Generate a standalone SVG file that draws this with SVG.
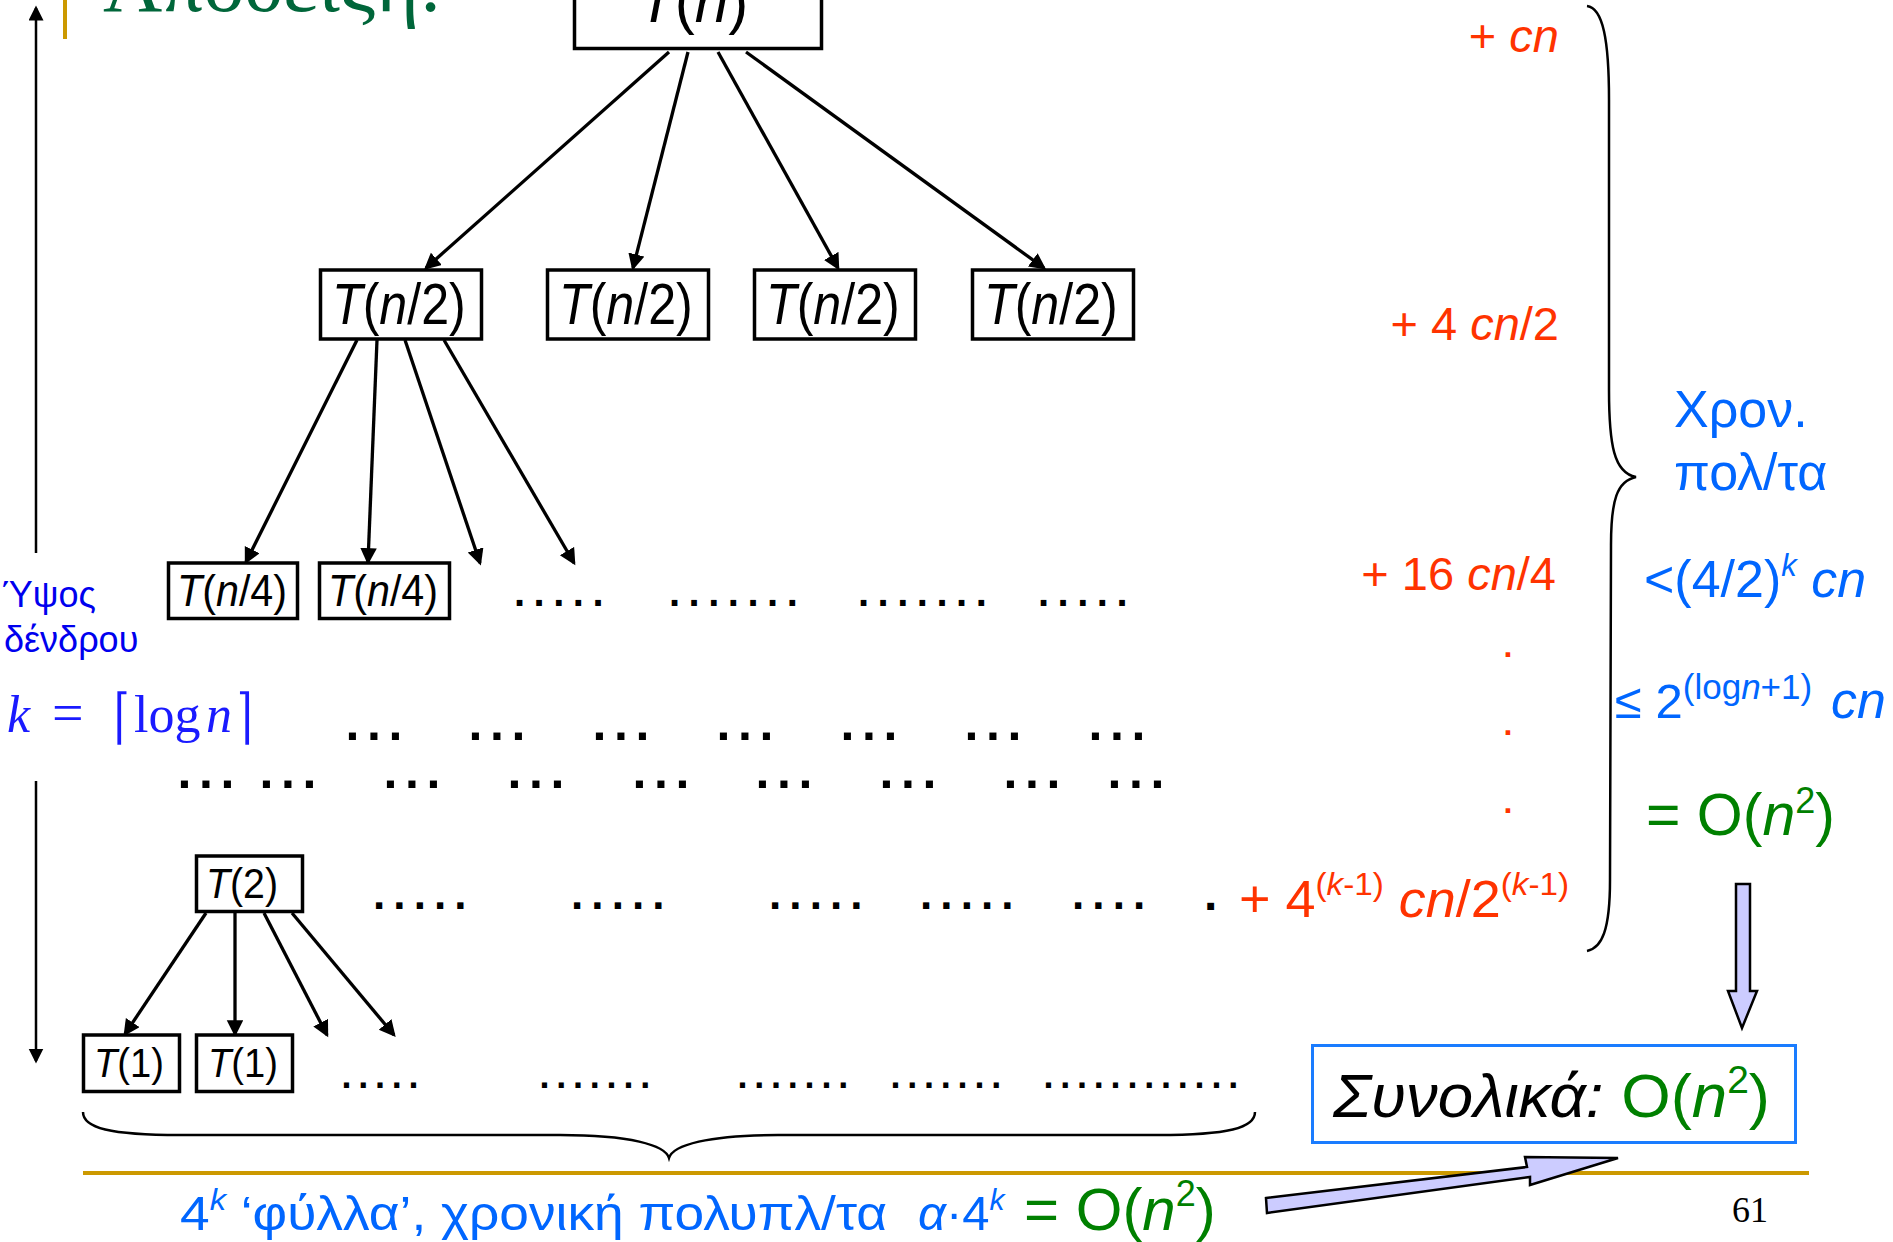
<svg xmlns="http://www.w3.org/2000/svg" width="1893" height="1242" viewBox="0 0 1893 1242">
<defs>
<style>
.box{fill:#fff;stroke:#000;stroke-width:3.5}
.t{font-family:"Liberation Sans",Arial,sans-serif;fill:#000}
.i{font-style:italic}
.edge{stroke:#000;stroke-width:3.3;fill:none;marker-end:url(#ah)}
.hgt{stroke:#000;stroke-width:2.5;fill:none;marker-end:url(#ah2)}
.dots{font-family:"Liberation Sans",Arial,sans-serif;font-weight:bold;fill:#000}
.d1{font-size:40px;letter-spacing:8.5px}
.d2{font-size:50px;letter-spacing:7.6px}
.d4{font-size:44px;letter-spacing:8.1px}
.d5{font-size:36px;letter-spacing:6.8px}
.or{font-family:"Liberation Sans",Arial,sans-serif;fill:#FF3300}
.bl{font-family:"Liberation Sans",Arial,sans-serif;fill:#0066FF}
.gr{fill:#008000}
.brace{stroke:#000;stroke-width:2.5;fill:none}
.blk{fill:#CCCCFF;stroke:#000;stroke-width:2.5;stroke-linejoin:miter}
.ceil{font-family:"DejaVu Serif",serif;font-size:40px;fill:#1A1AFF}
</style>
<marker id="ah" markerWidth="6" markerHeight="6" refX="4.2" refY="2.5" orient="auto" markerUnits="strokeWidth"><path d="M0,0 L5,2.5 L0,5 z" fill="#000"/></marker>
<marker id="ah2" markerWidth="7" markerHeight="7" refX="5" refY="3" orient="auto" markerUnits="strokeWidth"><path d="M0,0 L6,3 L0,6 z" fill="#000"/></marker>
</defs>
<rect width="1893" height="1242" fill="#fff"/>

<g id="title">
<rect x="63" y="0" width="4" height="39" fill="#CC9900"/>
<text x="103" y="11" font-family="'Liberation Serif','Times New Roman',serif" font-size="82" fill="#00663A">Απόδειξη:</text>
</g>

<g id="height-axis">
<line class="hgt" x1="36" y1="553" x2="36" y2="8"/>
<line class="hgt" x1="36" y1="781" x2="36" y2="1061"/>
<text class="t" x="2" y="607" font-size="36" style="fill:#0000EE">Ύψος</text>
<text class="t" x="4" y="652" font-size="36" style="fill:#0000EE">δένδρου</text>
<g font-family="'Liberation Serif','DejaVu Serif',serif" font-size="52" fill="#1A1AFF">
<text x="7" y="732" font-style="italic">k</text>
<text x="52" y="732" font-size="56">=</text>
<text class="ceil" transform="translate(114,737) scale(1,1.5)">⌈</text>
<text x="134" y="732">log</text>
<text x="206" y="732" font-style="italic">n</text>
<text class="ceil" transform="translate(237,737) scale(1,1.5)">⌉</text>
</g>
</g>

<g id="connectors">
<line class="edge" x1="669" y1="52" x2="426" y2="268"/>
<line class="edge" x1="688" y1="52" x2="633" y2="268"/>
<line class="edge" x1="718" y1="52" x2="838" y2="268"/>
<line class="edge" x1="746" y1="52" x2="1044" y2="268"/>
<line class="edge" x1="357" y1="340" x2="246" y2="562"/>
<line class="edge" x1="377" y1="340" x2="368" y2="562"/>
<line class="edge" x1="405" y1="340" x2="480" y2="563"/>
<line class="edge" x1="444" y1="340" x2="574" y2="563"/>
<line class="edge" x1="206" y1="913" x2="125" y2="1034"/>
<line class="edge" x1="235" y1="913" x2="235" y2="1034"/>
<line class="edge" x1="264" y1="913" x2="327" y2="1035"/>
<line class="edge" x1="292" y1="913" x2="394" y2="1035"/>
</g>

<g id="node-Tn">
<rect class="box" x="574.5" y="-10" width="247" height="58.5"/>
<text class="t" font-size="62" transform="translate(638,22) scale(0.97,1)"><tspan class="i">T</tspan>(<tspan class="i">n</tspan>)</text>
</g>
<g id="node-Tn2-1">
<rect class="box" x="320.5" y="270" width="161" height="69"/>
<text class="t" font-size="57" transform="translate(332,324) scale(0.88,1)"><tspan class="i">T</tspan>(<tspan class="i">n</tspan>/2)</text>
</g>
<g id="node-Tn2-2">
<rect class="box" x="547.5" y="270" width="161" height="69"/>
<text class="t" font-size="57" transform="translate(559,324) scale(0.88,1)"><tspan class="i">T</tspan>(<tspan class="i">n</tspan>/2)</text>
</g>
<g id="node-Tn2-3">
<rect class="box" x="754.5" y="270" width="161" height="69"/>
<text class="t" font-size="57" transform="translate(766,324) scale(0.88,1)"><tspan class="i">T</tspan>(<tspan class="i">n</tspan>/2)</text>
</g>
<g id="node-Tn2-4">
<rect class="box" x="972.5" y="270" width="161" height="69"/>
<text class="t" font-size="57" transform="translate(984,324) scale(0.88,1)"><tspan class="i">T</tspan>(<tspan class="i">n</tspan>/2)</text>
</g>
<g id="node-Tn4-1">
<rect class="box" x="168.5" y="563" width="129" height="55.5"/>
<text class="t" font-size="45" transform="translate(177,606) scale(0.917,1)"><tspan class="i">T</tspan>(<tspan class="i">n</tspan>/4)</text>
</g>
<g id="node-Tn4-2">
<rect class="box" x="319.5" y="563" width="130" height="55.5"/>
<text class="t" font-size="45" transform="translate(328,606) scale(0.917,1)"><tspan class="i">T</tspan>(<tspan class="i">n</tspan>/4)</text>
</g>
<g id="node-T2">
<rect class="box" x="196.5" y="856" width="106" height="55.5"/>
<text class="t" font-size="43" transform="translate(206,898) scale(0.914,1)"><tspan class="i">T</tspan>(2)</text>
</g>
<g id="node-T1-1">
<rect class="box" x="83.5" y="1035" width="96" height="56.5"/>
<text class="t" font-size="41" transform="translate(94,1077) scale(0.93,1)"><tspan class="i">T</tspan>(1)</text>
</g>
<g id="node-T1-2">
<rect class="box" x="196.5" y="1035" width="96" height="56.5"/>
<text class="t" font-size="41" transform="translate(208,1077) scale(0.93,1)"><tspan class="i">T</tspan>(1)</text>
</g>

<g id="dot-rows">
<text class="dots d1" x="514" y="606">.....</text>
<text class="dots d1" x="669" y="606">.......</text>
<text class="dots d1" x="858" y="606">.......</text>
<text class="dots d1" x="1038" y="606">.....</text>

<text class="dots d2" x="345.5" y="739.5">...</text>
<text class="dots d2" x="468.5" y="739.5">...</text>
<text class="dots d2" x="592.5" y="739.5">...</text>
<text class="dots d2" x="716.5" y="739.5">...</text>
<text class="dots d2" x="840.5" y="739.5">...</text>
<text class="dots d2" x="964.5" y="739.5">...</text>
<text class="dots d2" x="1088.5" y="739.5">...</text>

<text class="dots d2" x="177.5" y="787.5">...</text>
<text class="dots d2" x="259.5" y="787.5">...</text>
<text class="dots d2" x="383.5" y="787.5">...</text>
<text class="dots d2" x="507.5" y="787.5">...</text>
<text class="dots d2" x="632.5" y="787.5">...</text>
<text class="dots d2" x="755.5" y="787.5">...</text>
<text class="dots d2" x="879.5" y="787.5">...</text>
<text class="dots d2" x="1003.5" y="787.5">...</text>
<text class="dots d2" x="1107.5" y="787.5">...</text>

<text class="dots d4" x="373" y="909">.....</text>
<text class="dots d4" x="571" y="909">.....</text>
<text class="dots d4" x="769" y="909">.....</text>
<text class="dots d4" x="920" y="909">.....</text>
<text class="dots d4" x="1072" y="909">....</text>
<text class="dots" x="1204" y="909.5" font-size="48">.</text>

<text class="dots d5" x="341.4" y="1088">.....</text>
<text class="dots d5" x="539.4" y="1088">.......</text>
<text class="dots d5" x="737.4" y="1088">.......</text>
<text class="dots d5" x="890.4" y="1088">.......</text>
<text class="dots d5" x="1043.4" y="1088">............</text>
</g>

<g id="level-costs">
<text class="or" x="1559" y="52" font-size="47" text-anchor="end">+ <tspan class="i">cn</tspan></text>
<text class="or" x="1559" y="340" font-size="47" text-anchor="end">+ 4 <tspan class="i">cn</tspan>/2</text>
<text class="or" x="1556" y="590" font-size="47" text-anchor="end">+ 16 <tspan class="i">cn</tspan>/4</text>
<text class="or" x="1503.5" y="657" font-size="32" font-weight="bold">.</text>
<text class="or" x="1503.5" y="735" font-size="32" font-weight="bold">.</text>
<text class="or" x="1503.5" y="813" font-size="32" font-weight="bold">.</text>
<text class="or" x="1239" y="917" font-size="52" textLength="330" lengthAdjust="spacingAndGlyphs">+ 4<tspan font-size="32" dy="-22">(<tspan class="i">k</tspan>-1)</tspan><tspan dy="22"> </tspan><tspan class="i">cn</tspan>/2<tspan font-size="32" dy="-22">(<tspan class="i">k</tspan>-1)</tspan></text>
</g>

<g id="right-brace">
<path class="brace" d="M1587,6 C1603,8 1609,40 1609,100 L1609,390 C1609,445 1614,473 1636,477 C1617,481 1611,500 1611,545 L1610,880 C1610,930 1602,948 1587,951"/>
</g>

<g id="total-time">
<text class="bl" x="1674" y="427" font-size="52">Χρον.</text>
<text class="bl" x="1674" y="490" font-size="52">πολ/τα</text>
<text class="bl" x="1644" y="597" font-size="52">&lt;(4/2)<tspan font-size="31" dy="-21" class="i">k</tspan><tspan dy="21"> </tspan><tspan class="i">cn</tspan></text>
<text class="bl" x="1615" y="718" font-size="49">≤ 2<tspan font-size="35" dy="-19">(log<tspan class="i">n</tspan>+1)</tspan></text>
<text class="bl i" x="1831" y="718" font-size="52">cn</text>
<text class="bl gr" x="1646" y="835" font-size="59" style="fill:#008000">= O(<tspan class="i">n</tspan><tspan font-size="36" dy="-22">2</tspan><tspan dy="22">)</tspan></text>
</g>

<g id="arrow-down">
<polygon class="blk" points="1736,884 1750,884 1750,991 1757,991 1742,1028 1728,991 1736,991"/>
</g>

<g id="node-total">
<rect x="1312.5" y="1045.5" width="483" height="97" fill="#fff" stroke="#1A7CFF" stroke-width="3"/>
<text class="t" x="1333" y="1117" font-size="62" textLength="437" lengthAdjust="spacingAndGlyphs"><tspan class="i">Συνολικά:</tspan> <tspan class="gr">O(<tspan class="i">n</tspan><tspan font-size="38" dy="-24">2</tspan><tspan dy="24">)</tspan></tspan></text>
</g>

<g id="bottom-brace">
<path class="brace" d="M83,1112 C83,1128 110,1135 180,1135 L560,1135 C630,1135 665,1145 669,1158 C673,1145 708,1135 778,1135 L1158,1135 C1228,1135 1255,1128 1255,1112"/>
</g>

<rect x="83" y="1171" width="1726" height="4" fill="#CC9900"/>

<g id="leaves-text">
<text class="bl" x="180" y="1230" font-size="49" textLength="707" lengthAdjust="spacingAndGlyphs">4<tspan font-size="30" dy="-20" class="i">k</tspan><tspan dy="20"> ‘φύλλα’, χρονική πολυπλ/τα</tspan></text>
<text class="bl" x="918" y="1230" font-size="49"><tspan class="i">α</tspan>·4<tspan font-size="30" dy="-20" class="i">k</tspan></text>
<text class="t gr" x="1024" y="1230" font-size="60" style="fill:#008000">= O(<tspan class="i">n</tspan><tspan font-size="36" dy="-24">2</tspan><tspan dy="24">)</tspan></text>
</g>

<g id="arrow-diag">
<polygon class="blk" points="1266,1198 1527,1167 1525,1157 1618,1158 1530,1185 1530,1177 1267,1213"/>
</g>

<text x="1732" y="1222" font-family="'Liberation Serif','Times New Roman',serif" font-size="36" fill="#000">61</text>
</svg>
